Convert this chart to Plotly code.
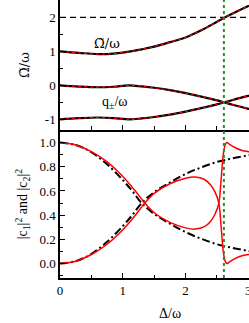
import plotly.graph_objects as go

# ---------- data ----------
# top panel
d_top = [0.0, 0.3, 0.6, 0.85, 1.1, 1.3, 1.5, 1.75, 2.0, 2.25, 2.5, 2.6, 2.75, 3.0, 3.05]
omega_t = [1.0, 0.955, 0.92, 0.935, 0.99, 1.06, 1.14, 1.27, 1.41, 1.62, 1.87, 1.97, 2.11, 2.33, 2.37]
q_plus = [0.0, -0.035, -0.055, -0.04, 0.0, -0.03, -0.07, -0.14, -0.23, -0.33, -0.44, -0.49, -0.57, -0.69, -0.71]
q_minus = [-1.0, -0.965, -0.945, -0.96, -1.0, -0.97, -0.93, -0.86, -0.77, -0.67, -0.56, -0.51, -0.43, -0.31, -0.29]

# bottom panel, black dash-dot
d_blk = [0.0, 0.25, 0.5, 0.75, 1.0, 1.15, 1.3, 1.5, 1.75, 2.0, 2.25, 2.5, 2.75, 3.0, 3.05]
c1_blk = [1.0, 0.98, 0.92, 0.82, 0.69, 0.6, 0.5, 0.41, 0.33, 0.26, 0.205, 0.16, 0.13, 0.105, 0.1]
c2_blk = [0.0, 0.02, 0.08, 0.18, 0.31, 0.4, 0.5, 0.59, 0.67, 0.74, 0.795, 0.84, 0.87, 0.895, 0.9]

# bottom panel, red
d_red = [0.0, 0.25, 0.5, 0.75, 1.0, 1.2, 1.35, 1.5, 1.75, 2.0, 2.15, 2.3, 2.4, 2.47, 2.53,
         2.57, 2.6, 2.63, 2.66, 2.7, 2.8, 2.9, 3.0, 3.05]
c1_red = [1.0, 0.98, 0.925, 0.84, 0.72, 0.6, 0.5, 0.42, 0.34, 0.295, 0.285, 0.305, 0.35, 0.41, 0.5,
          0.72, 0.9, 0.98, 1.0, 0.985, 0.955, 0.935, 0.925, 0.92]
c2_red = [0.0, 0.02, 0.075, 0.16, 0.28, 0.4, 0.5, 0.58, 0.66, 0.705, 0.715, 0.695, 0.65, 0.59, 0.5,
          0.28, 0.1, 0.02, 0.0, 0.015, 0.045, 0.065, 0.075, 0.08]

x_ticks = [0, 1, 2, 3]
x_minor = [0.5, 1.5, 2.5]
x_res = 2.61
y_dash = 2.0

FONT = "Liberation Serif"
FONT_T = "DejaVu Serif"

fig = go.Figure()

# top panel: black base + red dashed overlay
for ys in (omega_t, q_plus, q_minus):
    fig.add_trace(go.Scatter(x=d_top, y=ys, mode="lines", xaxis="x", yaxis="y2",
                             line=dict(color="black", width=2.2, shape="spline"),
                             showlegend=False, hoverinfo="skip"))
    fig.add_trace(go.Scatter(x=d_top, y=ys, mode="lines", xaxis="x", yaxis="y2",
                             line=dict(color="red", width=1.2, dash="3px,3px", shape="spline"),
                             showlegend=False, hoverinfo="skip"))

# bottom panel
for ys in (c1_blk, c2_blk):
    fig.add_trace(go.Scatter(x=d_blk, y=ys, mode="lines", xaxis="x2", yaxis="y",
                             line=dict(color="black", width=2, dash="8px,3px,2px,3px", shape="spline"),
                             showlegend=False, hoverinfo="skip"))
for ys in (c1_red, c2_red):
    fig.add_trace(go.Scatter(x=d_red, y=ys, mode="lines", xaxis="x2", yaxis="y",
                             line=dict(color="red", width=1.5, shape="spline", smoothing=0.8),
                             showlegend=False, hoverinfo="skip"))

# reference lines
fig.add_shape(type="line", xref="x", yref="y2", x0=0, x1=3.05, y0=y_dash, y1=y_dash,
              line=dict(color="black", width=1.3, dash="6px,4px"))
fig.add_shape(type="line", xref="x", yref="paper", x0=x_res, x1=x_res, y0=0, y1=1,
              line=dict(color="#1a9a1a", width=2, dash="dot"))

ax_common = dict(linecolor="black", linewidth=1.5,
                 tickcolor="black", tickwidth=1.2, showgrid=False, zeroline=False,
                 tickfont=dict(family=FONT, size=13, color="black"))

XR = [0, 3.01]
TOPDOM = [0.532, 1.0]
fig.update_layout(
    width=249, height=323,
    margin=dict(l=60, r=0, t=0, b=45, autoexpand=False),
    paper_bgcolor="white", plot_bgcolor="white",
    xaxis=dict(range=XR, domain=[0, 1], anchor="y2", showticklabels=False, showline=True,
               tickvals=x_ticks, ticks="inside", ticklen=5,
               minor=dict(tickvals=x_minor, ticks="inside", ticklen=4, tickcolor="black"),
               **ax_common),
    xaxis3=dict(range=XR, domain=[0, 1], anchor="y", side="top", overlaying="x2",
                showticklabels=False, showline=False,
                tickvals=x_ticks, ticks="inside", ticklen=5,
                minor=dict(tickvals=x_minor, ticks="inside", ticklen=4, tickcolor="black"),
                **ax_common),
    yaxis2=dict(range=[-1.315, 2.51], domain=TOPDOM, anchor="x", ticks="inside", showline=True,
                tickvals=[-1, 0, 1, 2], ticktext=["-1", "0", "1", "2"], ticklen=5,
                minor=dict(dtick=0.5, ticks="inside", ticklen=3, tickcolor="black"),
                title=dict(text="Ω̃/ω", font=dict(family=FONT_T, size=13, color="black"), standoff=12),
                **ax_common),
    xaxis2=dict(range=XR, domain=[0, 1], anchor="y", ticks="inside", showline=True,
                tickvals=x_ticks, ticktext=[str(v) for v in x_ticks], ticklen=5,
                ticklabeloverflow="allow",
                minor=dict(tickvals=x_minor, ticks="inside", ticklen=3, tickcolor="black"),
                **ax_common),
    yaxis=dict(range=[-0.119, 1.103], domain=[0, 0.532], anchor="x2", ticks="inside", showline=True,
               tickvals=[0, 0.2, 0.4, 0.6, 0.8, 1.0],
               ticktext=["0.0", "0.2", "0.4", "0.6", "0.8", "1.0"], ticklen=5,
               minor=dict(dtick=0.1, ticks="inside", ticklen=3, tickcolor="black"),
               title=dict(text="|c<sub>1</sub>|<sup>2</sup> and |c<sub>2</sub>|<sup>2</sup>",
                          font=dict(family=FONT, size=14, color="black"), standoff=8),
               **ax_common),
    annotations=[
        dict(text="Ω̃/ω", x=0.75, y=1.24, xref="x", yref="y2", showarrow=False,
             font=dict(family=FONT_T, size=13, color="black")),
        dict(text="q<sub>±</sub>/ω", x=0.88, y=-0.5, xref="x", yref="y2", showarrow=False,
             font=dict(family=FONT, size=14, color="black")),
        dict(text="Δ/ω", x=(170 - 60) / 189, y=-(313 - 277.7) / 277.7, xref="paper", yref="paper",
             yanchor="middle", showarrow=False,
             font=dict(family=FONT, size=14, color="black")),
    ],
)

fig.write_html("out.html", config={"displayModeBar": False},
               post_script="document.body.style.margin='0';document.body.style.padding='0';")
